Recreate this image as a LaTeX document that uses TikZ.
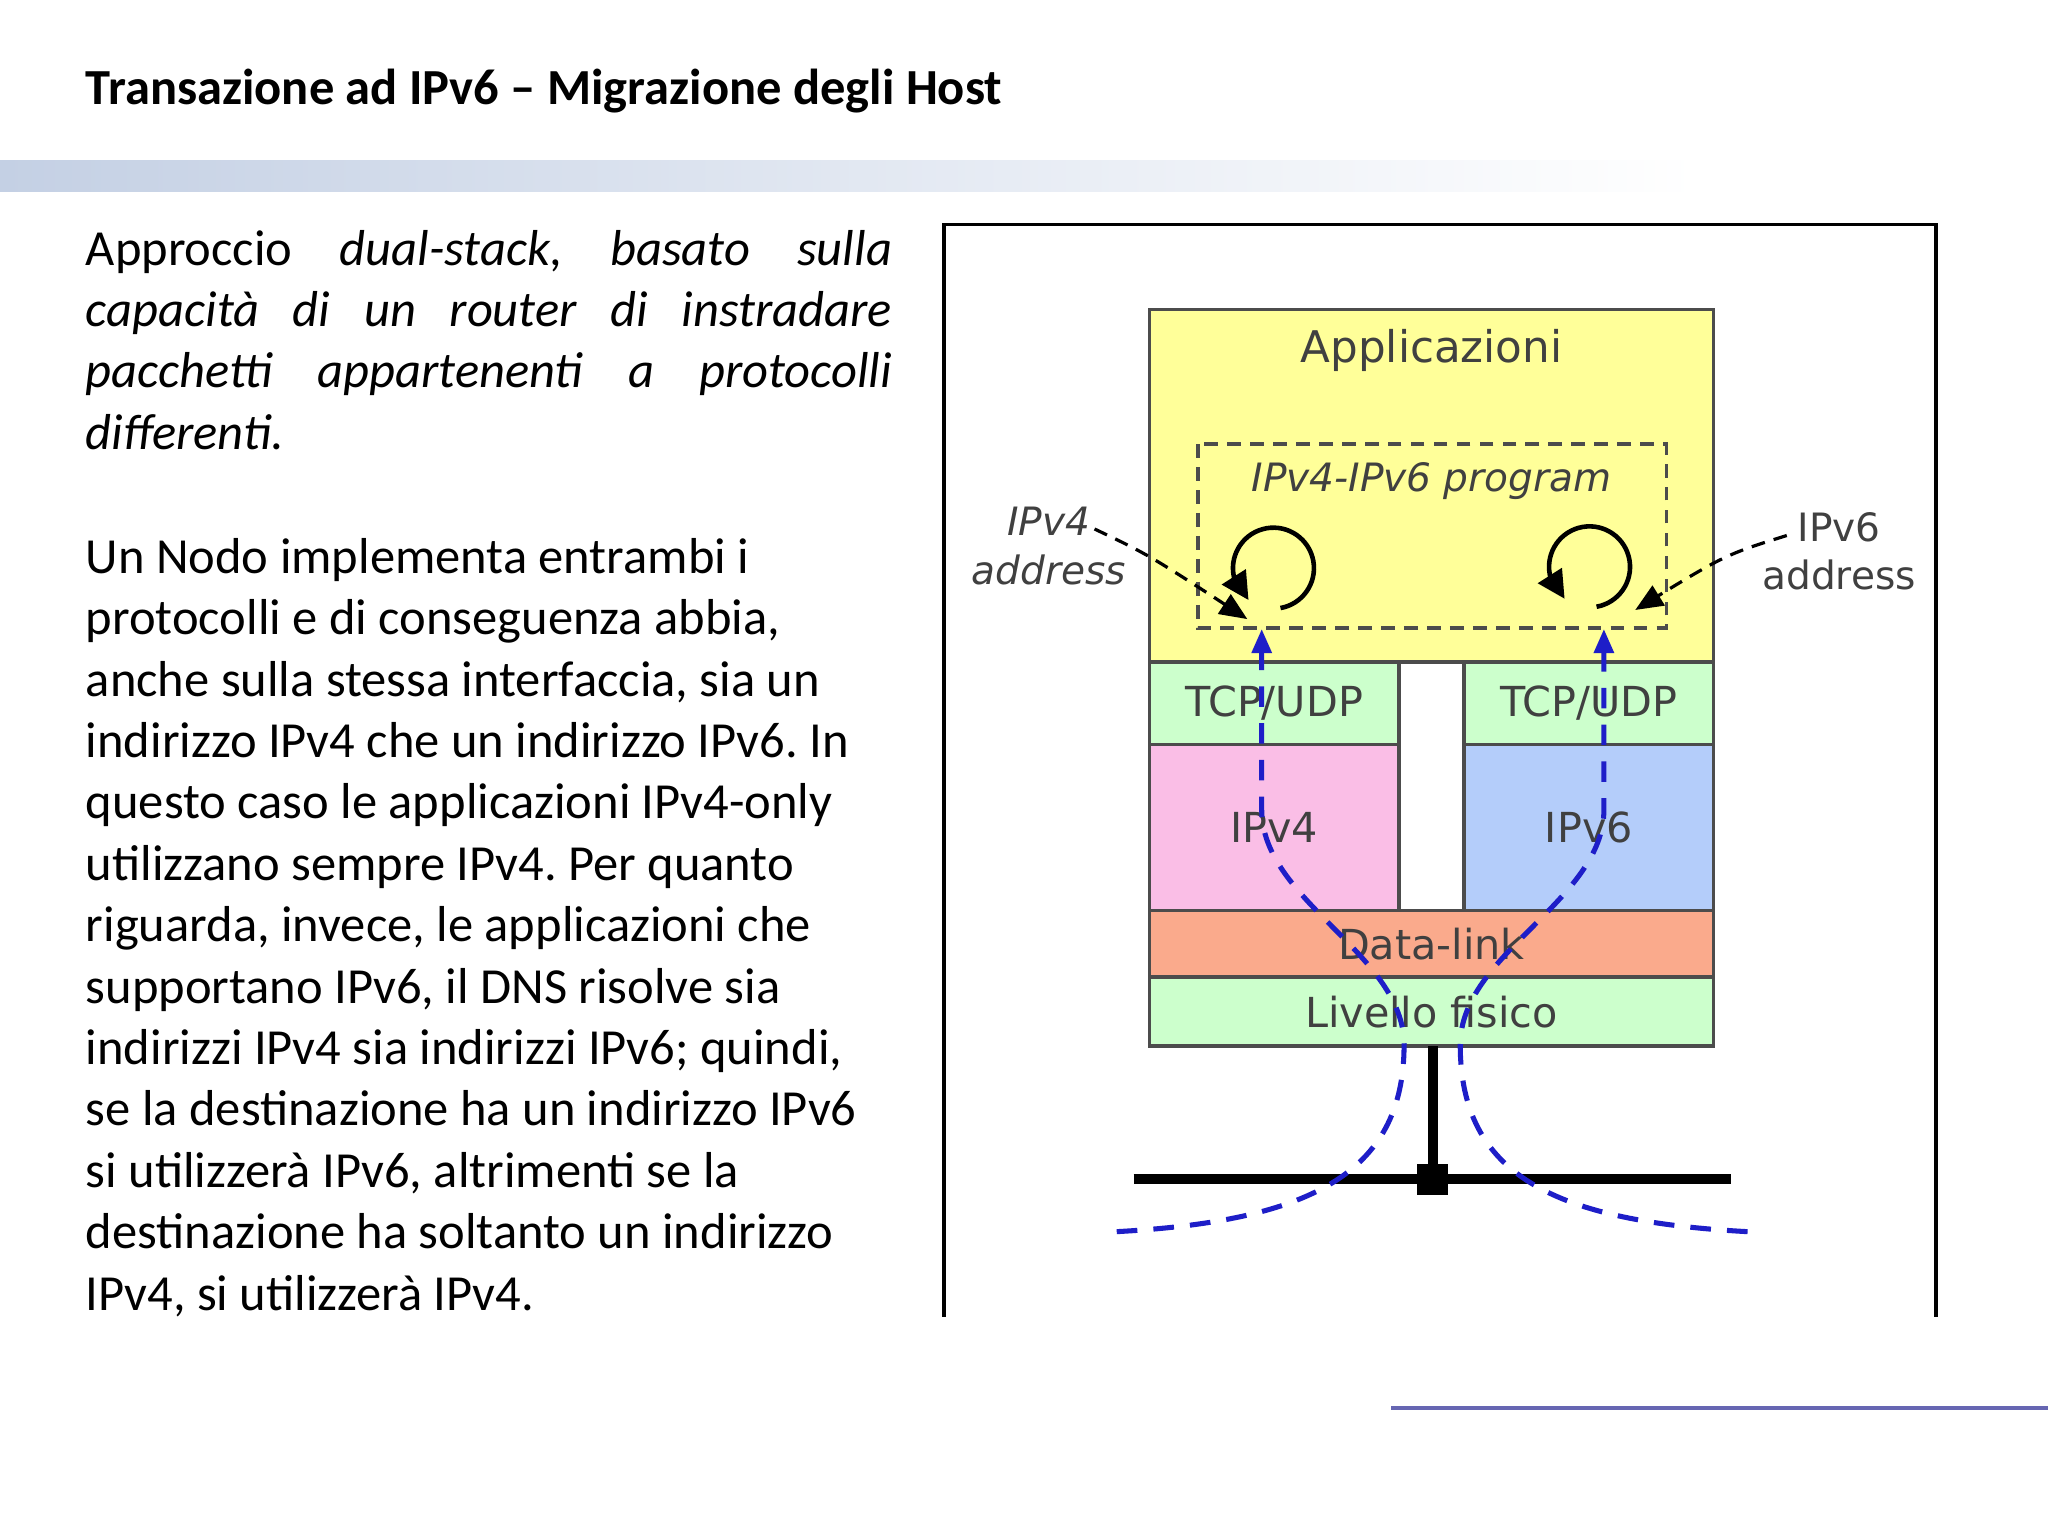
\documentclass[tikz,border=0pt]{standalone}
\usepackage{fontspec}
\setmainfont{Carlito}
\newfontfamily\dv{DejaVu Sans}
\usetikzlibrary{arrows.meta,bending}
\definecolor{yel}{RGB}{255,255,153}
\definecolor{grn}{RGB}{204,255,204}
\definecolor{pnk}{RGB}{250,190,230}
\definecolor{blu}{RGB}{180,205,250}
\definecolor{sal}{RGB}{250,170,140}
\definecolor{bar}{RGB}{196,208,228}
\definecolor{pth}{RGB}{30,30,200}
\tikzset{lay/.style={draw=black!70,line width=0.8pt},
 lbl/.style={font=\dv\fontsize{9}{10.5}\selectfont,text=black!75},
 body/.style={anchor=base west,inner sep=0,font=\frenchspacing\fontsize{11}{13}\selectfont},
 bp/.style={pth,line width=1.1pt,dash pattern=on 4.5pt off 3.5pt},
 ad/.style={black,line width=0.7pt,dash pattern=on 3pt off 2pt,-{Triangle[length=6pt,width=5pt]}},
 lp/.style={black,line width=1pt,-{Triangle[length=6pt,width=6pt,flex]}}}
\begin{document}
\begin{tikzpicture}[x=0.01cm,y=-0.01cm]
\useasboundingbox (0,0) rectangle (1568,1176);
\fill[white] (0,0) rectangle (1568,1176);
\node[anchor=base west,inner sep=0,font=\bfseries\fontsize{11}{13}\selectfont] (title) at (65,80) {Transazione ad IPv6 -- Migrazione degli Host};
\shade[left color=bar,right color=white] (0,123) rectangle (1300,147);
% left text
\node[body] (p1) at (65,203) {\makebox[6.17cm][s]{Approccio \textit{dual-stack, basato sulla}}};
\node[body] (p2) at (65,250) {\makebox[6.17cm][s]{\textit{capacità di un router di instradare}}};
\node[body] (p3) at (65,297) {\makebox[6.17cm][s]{\textit{pacchetti appartenenti a protocolli}}};
\node[body] (p4) at (65,344) {\textit{differenti.}};
\foreach \t [count=\i from 0] in {Un Nodo implementa entrambi i,{protocolli e di conseguenza abbia,},{anche sulla stessa interfaccia, sia un},indirizzo IPv4 che un indirizzo IPv6. In,questo caso le applicazioni IPv4-only,utilizzano sempre IPv4. Per quanto,{riguarda, invece, le applicazioni che},{supportano IPv6, il DNS risolve sia},{indirizzi IPv4 sia indirizzi IPv6; quindi,},se la destinazione ha un indirizzo IPv6,{si utilizzerà IPv6, altrimenti se la},destinazione ha soltanto un indirizzo,{IPv4, si utilizzerà IPv4.}}
  \node[body] (q\i) at (65,{439+47*\i}) {\t};
% frame
\draw[black,line width=0.8pt] (723,1008) -- (723,172) -- (1482,172) -- (1482,1008);
\draw[blue!50!black!60,line width=0.7pt] (1065,1078) -- (1568,1078);
% layers
\draw[lay,fill=yel] (880,237) rectangle (1312,507);
\node[lbl,font=\dv\fontsize{9.5}{11}\selectfont] (app) at (1096,268) {Applicazioni};
\draw[lay,dash pattern=on 3pt off 2pt] (917,340) rectangle (1276,481);
\node[lbl,font=\dv\itshape\fontsize{8.5}{10}\selectfont] (prog) at (1096,368) {IPv4-IPv6 program};
\draw[lay,fill=grn] (880,507) rectangle (1071,570) node[midway,lbl] (t1) {TCP/UDP};
\draw[lay,fill=grn] (1121,507) rectangle (1312,570) node[midway,lbl] (t2) {TCP/UDP};
\draw[lay,fill=pnk] (880,570) rectangle (1071,697) node[midway,lbl] (v4) {IPv4};
\draw[lay,fill=blu] (1121,570) rectangle (1312,697) node[midway,lbl] (v6) {IPv6};
\draw[lay,fill=sal] (880,697) rectangle (1312,748) node[midway,lbl] (dl) {Data-link};
\draw[lay,fill=grn] (880,748) rectangle (1312,801) node[midway,lbl] (lf) {Livello fisico};
% physical
\draw[black,line width=2.2pt] (1097,801) -- (1097,903);
\draw[black,line width=2.2pt] (868,903) -- (1325,903);
\fill[black] (1085,891) rectangle (1109,915);
% blue paths
\draw[bp] (855,943) .. controls (1000,935) and (1075,900) .. (1075,800) .. controls (1075,730) and (966,690) .. (966,620) -- (966,495);
\draw[bp] (1338,943) .. controls (1190,935) and (1118,900) .. (1118,800) .. controls (1118,730) and (1228,690) .. (1228,620) -- (1228,495);
\fill[pth] (966,482) -- (958,500) -- (974,500) -- cycle;
\fill[pth] (1228,482) -- (1220,500) -- (1236,500) -- cycle;
% loops
\begin{scope}[shift={(975,435)},x=0.01cm,y=0.01cm]
\draw[lp] (-80:31) arc[start angle=-80,end angle=232,radius=31];
\end{scope}
\begin{scope}[shift={(1217,434)},x=0.01cm,y=0.01cm]
\draw[lp] (-80:31) arc[start angle=-80,end angle=232,radius=31];
\end{scope}
% address labels
\node[lbl,font=\dv\itshape\fontsize{8.5}{10.5}\selectfont,align=center] (ip4) at (803,418) {IPv4\\address};
\node[lbl,font=\dv\fontsize{8.5}{10.5}\selectfont,align=center] (ip6) at (1408,422) {IPv6\\address};
\coordinate (e4) at (955,474);
\coordinate (e6) at (1252,467);
\draw[ad] (838,405) .. controls (880,425) .. (e4);
\draw[ad] (1368,410) .. controls (1320,425) .. (e6);
\end{tikzpicture}
\end{document}
